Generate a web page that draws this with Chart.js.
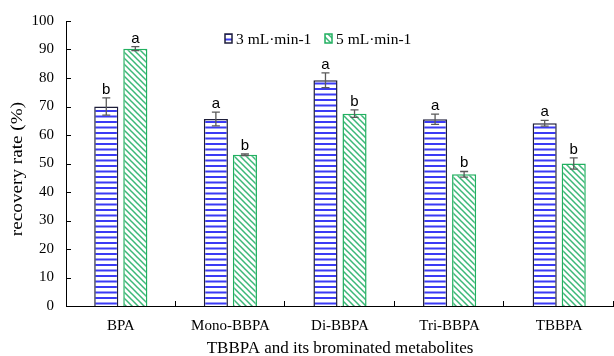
<!DOCTYPE html>
<html>
<head>
<meta charset="utf-8">
<script src="https://cdn.jsdelivr.net/npm/chart.js@4/dist/chart.umd.min.js"></script>
<style>
html,body{margin:0;padding:0;background:#fff;}
#wrap{width:614px;height:356px;}
</style>
</head>
<body>
<div id="wrap"><canvas id="recChart" width="614" height="356"></canvas></div>
<script>
/* ── DATA ── */
var categories=['BPA','Mono-BBPA','Di-BBPA','Tri-BBPA','TBBPA'];
var seriesNames=['3 mL·min-1','5 mL·min-1'];
var flow3=[70.0,65.6,79.2,65.5,64.1];
var flow3Err=[3.0,2.4,2.6,1.8,1.0];
var flow3Sig=['b','a','a','a','a'];
var flow5=[90.3,53.1,67.5,46.2,50.0];
var flow5Err=[0.7,0.3,1.3,1.0,2.0];
var flow5Sig=['a','b','b','b','b'];
var yTicks=[0,10,20,30,40,50,60,70,80,90,100];
var yTitle='recovery rate (%)';

var SERIF='"Liberation Serif", "Times New Roman", serif';

/* ── FILL PATTERNS ── */
function hPattern(){
  var c=document.createElement('canvas');c.width=4;c.height=11;
  var g=c.getContext('2d');
  g.fillStyle='#fff';g.fillRect(0,0,4,11);
  g.fillStyle='#3b3bf5';g.fillRect(0,0,4,2);g.fillRect(0,5.5,4,2);
  return g.createPattern(c,'repeat');
}
function dPattern(){
  var c=document.createElement('canvas');c.width=6;c.height=6;
  var g=c.getContext('2d');
  g.fillStyle='#fff';g.fillRect(0,0,6,6);
  g.strokeStyle='#3cb878';g.lineWidth=1.5;
  g.beginPath();
  g.moveTo(-1,-1);g.lineTo(7,7);
  g.moveTo(-1,5);g.lineTo(1,7);
  g.moveTo(5,-1);g.lineTo(7,1);
  g.stroke();
  return g.createPattern(c,'repeat');
}
var blueFill=hPattern(), greenFill=dPattern();
var blueEdge='#1e1e3a', greenEdge='#22b060';

/* ── ERROR BARS + LETTERS + INNER TICKS + LEGEND + Y TITLE ── */
var extras={
  id:'extras',
  afterDatasetsDraw:function(chart){
    var ctx=chart.ctx, y=chart.scales.y, x=chart.scales.x;
    var errs=[flow3Err,flow5Err], sig=[flow3Sig,flow5Sig];
    ctx.save();
    chart.data.datasets.forEach(function(ds,di){
      var meta=chart.getDatasetMeta(di);
      meta.data.forEach(function(bar,i){
        var v=ds.data[i], e=errs[di][i];
        var yt=y.getPixelForValue(v+e), yb=y.getPixelForValue(v-e);
        ctx.strokeStyle='#5a5a5a';ctx.lineWidth=1.3;
        ctx.beginPath();
        ctx.moveTo(bar.x,yt);ctx.lineTo(bar.x,yb);
        ctx.moveTo(bar.x-4,yt);ctx.lineTo(bar.x+4,yt);
        ctx.moveTo(bar.x-4,yb);ctx.lineTo(bar.x+4,yb);
        ctx.stroke();
        ctx.fillStyle='#000';ctx.font='15px "Liberation Sans", Arial, sans-serif';
        ctx.textAlign='center';ctx.textBaseline='alphabetic';
        ctx.fillText(sig[di][i],bar.x,yt-4);
      });
    });
    // inward tick marks
    ctx.strokeStyle='#000';ctx.lineWidth=1;
    ctx.beginPath();
    yTicks.forEach(function(t){
      var py=Math.round(y.getPixelForValue(t))+0.5;
      ctx.moveTo(x.left,py);ctx.lineTo(x.left+5,py);
    });
    var step=(x.right-x.left)/categories.length;
    for(var k=1;k<=categories.length;k++){
      var px=Math.round(x.left+k*step)-0.5;
      ctx.moveTo(px,y.bottom);ctx.lineTo(px,y.bottom-5);
    }
    ctx.stroke();
    // legend
    var items=[{x:225,fill:blueFill,edge:blueEdge},{x:325,fill:greenFill,edge:greenEdge}];
    ctx.font='15.5px '+SERIF;
    ctx.textAlign='left';ctx.textBaseline='alphabetic';
    items.forEach(function(it,i){
      ctx.fillStyle=it.fill;ctx.fillRect(it.x,34,7,9);
      ctx.strokeStyle=it.edge;ctx.lineWidth=1.5;ctx.strokeRect(it.x,34,7,9);
      ctx.fillStyle='#000';ctx.fillText(seriesNames[i],it.x+11,44);
    });
    // y axis title (slightly stretched along its length)
    ctx.translate(18,169);ctx.rotate(-Math.PI/2);ctx.scale(1.2,1);
    ctx.font='16px '+SERIF;ctx.textAlign='center';ctx.textBaseline='middle';
    ctx.fillStyle='#000';ctx.fillText(yTitle,0,0);
    ctx.restore();
  }
};

new Chart(document.getElementById('recChart').getContext('2d'),{
  type:'bar',
  data:{
    labels:categories,
    datasets:[
      {label:seriesNames[0],data:flow3,backgroundColor:blueFill,borderColor:blueEdge,borderWidth:1.5,barPercentage:.83,categoryPercentage:.53},
      {label:seriesNames[1],data:flow5,backgroundColor:greenFill,borderColor:greenEdge,borderWidth:1.5,barPercentage:.83,categoryPercentage:.53}
    ]
  },
  options:{
    responsive:false,animation:false,
    layout:{padding:{top:16,right:0,left:0,bottom:0}},
    plugins:{legend:{display:false},tooltip:{enabled:false}},
    scales:{
      x:{
        offset:true,
        grid:{display:false,drawTicks:false},
        border:{display:true,color:'#000',width:1},
        ticks:{color:'#000',padding:11,font:{family:SERIF,size:15}},
        title:{display:true,text:'TBBPA and its brominated metabolites',color:'#000',padding:{top:0,bottom:-1},font:{family:SERIF,size:17,lineHeight:1}},
        afterFit:function(s){s.height=50;}
      },
      y:{
        min:0,max:100,
        afterBuildTicks:function(s){s.ticks=yTicks.map(function(v){return{value:v};});},
        grid:{display:false,drawTicks:false},
        border:{display:true,color:'#000',width:1},
        ticks:{color:'#000',padding:12,font:{family:SERIF,size:15}},
        afterFit:function(s){s.width=66;}
      }
    }
  },
  plugins:[extras]
});
</script>
</body>
</html>
